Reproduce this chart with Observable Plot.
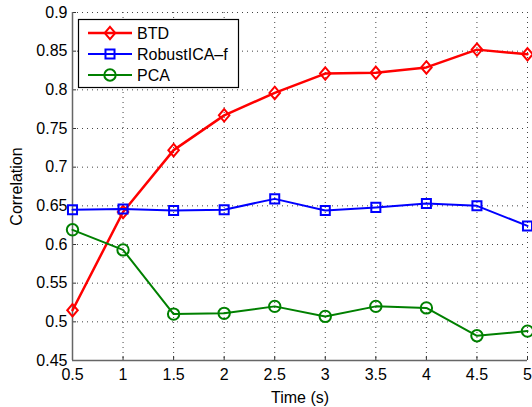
<!DOCTYPE html>
<html>
<head>
<meta charset="utf-8">
<script src="https://cdn.jsdelivr.net/npm/d3@7"></script>
<script src="https://cdn.jsdelivr.net/npm/@observablehq/plot@0.6"></script>
<style>
  body { margin: 0; background: #fff; }
  #wrap { position: relative; width: 532px; height: 407px; }
  #legend { position: absolute; left: 0; top: 0; }
</style>
</head>
<body>
<div id="wrap"></div>
<script>
const times = [0.5, 1, 1.5, 2, 2.5, 3, 3.5, 4, 4.5, 5];
const btd = [0.515, 0.642, 0.722, 0.767, 0.796, 0.821, 0.822, 0.829, 0.852, 0.846];
const robustica = [0.645, 0.646, 0.644, 0.645, 0.659, 0.644, 0.648, 0.653, 0.650, 0.624];
const pca = [0.619, 0.593, 0.510, 0.511, 0.520, 0.507, 0.520, 0.518, 0.482, 0.488];
const seriesNames = ["BTD", "RobustICA\u2013f", "PCA"];
const seriesColors = ["#ff0000", "#0000ff", "#008000"];
const xTicks = [0.5, 1, 1.5, 2, 2.5, 3, 3.5, 4, 4.5, 5];
const yTicks = [0.45, 0.5, 0.55, 0.6, 0.65, 0.7, 0.75, 0.8, 0.85, 0.9];

const diamond = {
  draw(ctx, size) {
    const r = Math.sqrt(size / Math.PI);
    const w = r * 0.85;
    ctx.moveTo(0, -r); ctx.lineTo(w, 0); ctx.lineTo(0, r); ctx.lineTo(-w, 0); ctx.closePath();
  }
};
const symbols = [diamond, "square", "circle"];
const radii = [6.2, 5.1, 5.7];
const widths = [2.5, 2, 2];

const allSeries = [btd, robustica, pca];
const rows = [];
allSeries.forEach((vals, s) => vals.forEach((v, i) => rows.push({series: seriesNames[s], s, t: times[i], v})));

const font = "Liberation Sans, Arial, Helvetica, sans-serif";
const tickLenX = 0.04, tickLenY = 0.0052;
const fmt = d => String(+(+d).toFixed(2));

const marks = [
  Plot.ruleX(xTicks.slice(1), {x: d => d, stroke: "#444", strokeDasharray: "1,4", strokeWidth: 1}),
  Plot.ruleY(yTicks.slice(1), {y: d => d, stroke: "#444", strokeDasharray: "1,4", strokeWidth: 1}),
  Plot.ruleX(xTicks, {x: d => d, y1: 0.45, y2: 0.45 + tickLenY, stroke: "#333", strokeWidth: 1}),
  Plot.ruleY(yTicks, {y: d => d, x1: 0.5, x2: 0.5 + tickLenX, stroke: "#333", strokeWidth: 1}),
  Plot.ruleX([0.5], {stroke: "#666", strokeWidth: 1.5}),
  Plot.ruleY([0.45], {stroke: "#666", strokeWidth: 1.5}),
];
seriesNames.forEach((name, s) => {
  const d = rows.filter(r => r.s === s);
  marks.push(Plot.line(d, {x: "t", y: "v", stroke: seriesColors[s], strokeWidth: widths[s]}));
  marks.push(Plot.dot(d, {x: "t", y: "v", stroke: seriesColors[s], strokeWidth: 2, fill: "none", r: radii[s], symbol: () => symbols[s]}));
});
marks.push(Plot.axisX(xTicks, {tickSize: 0, tickPadding: 8, fontSize: 16, fill: "#000", tickFormat: fmt, label: "Time (s)", labelArrow: "none", labelAnchor: "center", labelOffset: 42}));
marks.push(Plot.axisY(yTicks, {tickSize: 0, tickPadding: 5, fontSize: 16, fill: "#000", tickFormat: fmt, label: "Correlation", labelArrow: "none", labelAnchor: "center", labelOffset: 62}));

const chart = Plot.plot({
  width: 532, height: 407,
  marginLeft: 72, marginRight: 5, marginTop: 12, marginBottom: 47,
  style: {fontFamily: font, fontSize: "16px", background: "#fff", overflow: "visible"},
  x: {domain: [0.5, 5]},
  y: {domain: [0.45, 0.9]},
  marks
});
document.getElementById("wrap").appendChild(chart);

// Legend overlay
const lg = d3.select("#wrap").append("svg").attr("id", "legend").attr("width", 532).attr("height", 407);
lg.append("rect").attr("x", 78.5).attr("y", 19.5).attr("width", 160).attr("height", 68)
  .attr("fill", "#fff").attr("stroke", "#000").attr("stroke-width", 1.2);
seriesNames.forEach((name, s) => {
  const cy = 33 + s * 21;
  lg.append("line").attr("x1", 88).attr("x2", 132).attr("y1", cy).attr("y2", cy)
    .attr("stroke", seriesColors[s]).attr("stroke-width", widths[s]);
  const sym = s === 0 ? diamond : (s === 1 ? d3.symbolSquare : d3.symbolCircle);
  const r = radii[s];
  lg.append("path").attr("d", d3.symbol(sym, r * r * Math.PI)())
    .attr("transform", `translate(110,${cy})`).attr("fill", "none")
    .attr("stroke", seriesColors[s]).attr("stroke-width", 2);
  lg.append("text").attr("x", 137).attr("y", cy + 6).attr("font-family", font)
    .attr("font-size", 16).attr("fill", "#000").text(name);
});
</script>
</body>
</html>
